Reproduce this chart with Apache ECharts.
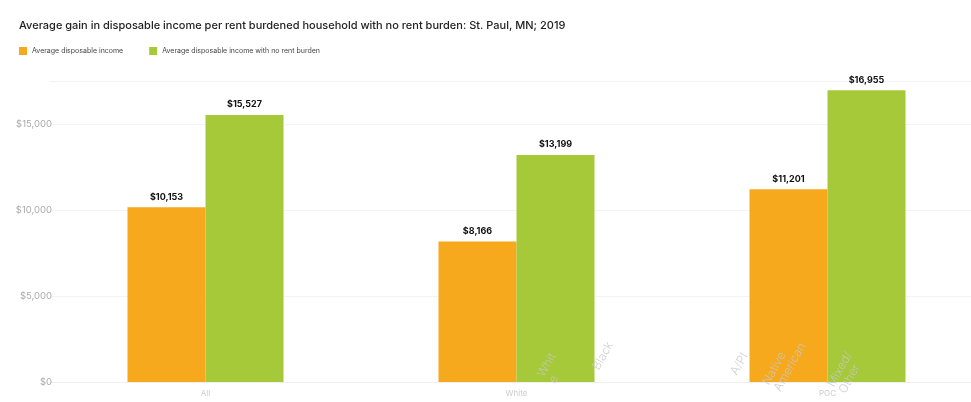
<!DOCTYPE html>
<html>
<head>
<meta charset="utf-8">
<script src="https://cdn.jsdelivr.net/npm/echarts@6/dist/echarts.min.js"></script>
<style>html,body{margin:0;padding:0;background:#fff}#c{width:971px;height:402px}</style>
</head>
<body>
<div id="c"></div>
<script>
var categories = ['All', 'White', 'POC'];
var avgIncome = [10153, 8166, 11201];
var avgIncomeNoBurden = [15527, 13199, 16955];
var seriesNames = ['Average disposable income', 'Average disposable income with no rent burden'];
var ghostLabels = ['Whit\ne', 'Black', 'A/PI', 'Native\nAmerican', 'Mixed/\nOther'];

var chart = echarts.init(document.getElementById('c'));
function money(v){ return '$' + v.toLocaleString('en-US'); }
var labelStyle = {show:true, position:'top', distance:6, color:'#111', fontSize:9, fontWeight:'bold', fontFamily:'Inter',
  formatter:function(p){return money(p.value);}};
var ghostStyle = function(t){ return {text:t, fill:'rgba(200,200,200,0.85)', font:'300 12px Inter', lineHeight:13}; };
var rot = Math.PI * 0.34;
chart.setOption({
  animation:false,
  textStyle:{fontFamily:'Inter'},
  title:{text:'Average gain in disposable income per rent burdened household with no rent burden: St. Paul, MN; 2019',
    left:14, top:15, textStyle:{fontSize:11, fontWeight:500, color:'#222', fontFamily:'Inter'}},
  legend:{left:14, top:42, itemWidth:8, itemHeight:8, itemGap:26, icon:'rect',
    textStyle:{fontSize:7, color:'#444', fontFamily:'Inter'}, data:seriesNames},
  grid:{left:50, width:933, top:81, bottom:20, containLabel:false, outerBoundsMode:'none'},
  xAxis:{type:'category', data:categories,
    axisLine:{show:true, lineStyle:{color:'#eee'}}, axisTick:{show:false},
    axisLabel:{color:'#ccc', fontSize:8, margin:8}},
  yAxis:{type:'value', min:0, max:17500, interval:5000,
    axisLabel:{showMaxLabel:false, color:'#aaa', fontSize:9.5, margin:-2, align:'right',
      formatter:function(v){return money(v);}},
    axisLine:{show:false}, axisTick:{show:false},
    splitLine:{show:true, lineStyle:{color:'#f3f3f3'}}},
  series:[
    {name:seriesNames[0], type:'bar', data:avgIncome, barWidth:78, barGap:'0%',
      itemStyle:{color:'#F6A91C'}, label:labelStyle},
    {name:seriesNames[1], type:'bar', data:avgIncomeNoBurden, barWidth:78, barGap:'0%',
      itemStyle:{color:'#A6C93A'}, label:labelStyle}
  ],
  graphic:[
    {type:'text', z:100, x:535, y:373, rotation:rot, style:ghostStyle(ghostLabels[0])},
    {type:'text', z:100, x:590, y:366, rotation:rot, style:ghostStyle(ghostLabels[1])},
    {type:'text', z:100, x:728, y:371, rotation:rot, style:ghostStyle(ghostLabels[2])},
    {type:'text', z:100, x:760, y:381, rotation:rot, style:ghostStyle(ghostLabels[3])},
    {type:'text', z:100, x:825, y:383, rotation:rot, style:ghostStyle(ghostLabels[4])}
  ]
});
</script>
</body>
</html>
